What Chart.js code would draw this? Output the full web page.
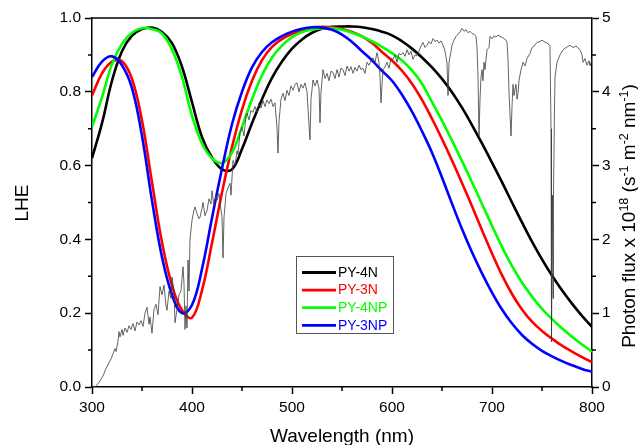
<!DOCTYPE html>
<html>
<head>
<meta charset="utf-8">
<script src="https://cdn.jsdelivr.net/npm/chart.js@4/dist/chart.umd.min.js"></script>
<style>
html,body{margin:0;padding:0;background:#fff;overflow:hidden;}
canvas{display:block;}
</style>
</head>
<body>
<canvas id="c" width="638" height="445"></canvas>
<script>
// ---------- DATA ----------
const wavelengths = [300,310,320,330,340,350,360,370,380,390,400,410,420,430,440,450,460,470,480,490,500,510,520,530,540,550,560,570,580,590,600,610,620,630,640,650,660,670,680,690,700,710,720,730,740,750,760,770,780,790,800];

const lhePY4N = [0.620,0.715,0.830,0.910,0.952,0.970,0.974,0.962,0.932,0.868,0.772,0.677,0.622,0.590,0.590,0.645,0.715,0.780,0.838,0.882,0.917,0.942,0.960,0.971,0.976,0.977,0.977,0.975,0.970,0.963,0.953,0.937,0.917,0.893,0.866,0.835,0.799,0.757,0.710,0.660,0.608,0.555,0.500,0.446,0.394,0.346,0.302,0.262,0.226,0.193,0.163];

const lhePY3N = [0.790,0.850,0.882,0.883,0.835,0.722,0.555,0.392,0.275,0.208,0.188,0.262,0.390,0.527,0.650,0.752,0.830,0.886,0.922,0.943,0.957,0.967,0.973,0.976,0.975,0.970,0.962,0.950,0.932,0.908,0.885,0.857,0.822,0.778,0.727,0.672,0.614,0.553,0.490,0.425,0.362,0.303,0.252,0.210,0.177,0.152,0.131,0.112,0.096,0.081,0.067];

const lhePY4NP = [0.705,0.785,0.875,0.930,0.960,0.972,0.970,0.958,0.915,0.840,0.735,0.660,0.620,0.607,0.635,0.705,0.780,0.845,0.893,0.925,0.948,0.962,0.969,0.972,0.972,0.968,0.960,0.950,0.937,0.922,0.905,0.885,0.858,0.822,0.772,0.722,0.668,0.612,0.555,0.496,0.437,0.380,0.328,0.283,0.245,0.212,0.184,0.159,0.136,0.115,0.096];

const lhePY3NP = [0.840,0.882,0.896,0.872,0.810,0.680,0.505,0.352,0.250,0.200,0.222,0.320,0.458,0.592,0.712,0.800,0.866,0.908,0.934,0.951,0.963,0.971,0.975,0.974,0.968,0.955,0.935,0.910,0.885,0.857,0.830,0.792,0.746,0.693,0.635,0.568,0.497,0.428,0.365,0.308,0.256,0.210,0.172,0.141,0.117,0.098,0.083,0.070,0.059,0.049,0.041];

const seriesLabels = ['PY-4N','PY-3N','PY-4NP','PY-3NP'];
const seriesColors = ['#000000','#ff0000','#00ff00','#0000ff'];

// AM1.5G photon flux (x10^18 s^-1 m^-2 nm^-1)
const solarWavelength = [300,303,305,308,311,314,317,319,321,323,324,326,327,328,330,331,333,335,337,339,341,343,345,347,349,351,353,355,357,358,360,362,364,366,368,370,372,374,375,377,379,380,382,383,385,387,389,391,392,393,394,395,396,397,398,400,402,403,405,407,408,410,411,413,415,417,419,420,422,424,425,427,429,430,431,432,434,436,438,439,441,443,445,446,448,450,452,454,455,457,459,461,463,465,467,469,471,473,475,477,479,481,483,485,486,487,489,491,493,495,497,499,501,503,505,507,509,511,513,515,517,518,519,521,523,525,527,528,529,531,533,535,537,539,541,543,545,547,549,551,553,555,557,559,561,563,565,567,569,571,573,575,577,579,581,583,585,587,588,589,590,591,593,595,597,599,601,603,605,607,609,611,613,615,617,619,621,623,625,627,629,631,633,635,637,639,641,643,645,647,649,651,653,655,656,657,659,660,662,664,666,668,670,672,674,676,678,680,682,684,685,686,687,688,689,690,691,692,693,695,697,698,700,702,704,706,708,710,712,714,715,716,717,718,719,720,721,722,723,724,725,726,727,729,731,733,735,738,740,742,745,748,750,752,755,757,758,759,759.5,760.5,761,761.5,762.5,763,765,768,771,774,778,781,784,788,790,791,793,795,797,798,800];

const solarFlux = [0,0,0.03,0.08,0.15,0.25,0.33,0.38,0.45,0.52,0.48,0.62,0.75,0.68,0.78,0.70,0.80,0.74,0.83,0.78,0.86,0.76,0.88,0.84,0.90,0.82,1.00,1.08,0.85,0.95,0.73,1.05,1.12,0.98,1.36,1.25,1.38,1.10,1.04,1.30,1.20,1.49,1.30,0.87,1.05,1.25,1.30,1.63,1.40,0.78,1.10,0.80,1.72,1.30,2.00,2.26,2.40,2.44,2.35,2.28,2.30,2.42,2.50,2.32,2.39,2.55,2.48,2.66,2.45,2.60,2.53,2.62,2.40,2.30,1.75,2.30,2.62,2.70,2.76,2.60,3.07,3.00,3.20,3.15,3.45,3.52,3.40,3.68,3.71,3.62,3.75,3.72,3.80,3.72,3.85,3.78,3.88,3.80,3.89,3.84,3.90,3.80,3.85,3.50,3.17,3.60,3.90,3.98,3.88,4.02,3.95,4.08,4.02,4.10,4.12,4.00,4.10,4.05,4.12,4.00,3.55,3.35,3.90,4.16,4.08,4.16,4.05,3.58,4.00,4.30,4.18,4.25,4.15,4.28,4.26,4.18,4.30,4.20,4.32,4.30,4.22,4.35,4.28,4.34,4.25,4.33,4.28,4.36,4.30,4.32,4.25,4.40,4.36,4.42,4.46,4.40,4.53,4.40,4.20,3.85,4.10,4.30,4.34,4.40,4.32,4.45,4.44,4.50,4.40,4.52,4.50,4.53,4.48,4.57,4.50,4.55,4.44,4.50,4.49,4.55,4.62,4.67,4.60,4.63,4.68,4.65,4.72,4.68,4.70,4.66,4.69,4.63,4.55,4.39,3.95,4.40,4.55,4.63,4.70,4.75,4.78,4.81,4.86,4.82,4.84,4.80,4.82,4.79,4.78,4.75,4.60,4.20,3.40,3.90,4.20,4.30,4.15,4.40,4.30,4.57,4.60,4.75,4.72,4.76,4.74,4.77,4.75,4.74,4.72,4.70,4.67,4.45,4.00,3.70,3.40,3.80,4.10,3.95,4.03,4.10,3.90,3.98,4.15,4.30,4.40,4.35,4.45,4.52,4.60,4.62,4.67,4.68,4.70,4.68,4.66,4.64,4.61,3.50,0.61,2.60,1.20,2.60,3.80,4.20,4.40,4.50,4.57,4.60,4.63,4.60,4.62,4.57,4.50,4.40,4.45,4.36,4.42,4.35,4.44];

const xTickValues = [300,400,500,600,700,800];
const xMinorTicks = [350,450,550,650,750];
const lheTickValues = [0,0.2,0.4,0.6,0.8,1.0];
const lheMinorTicks = [0.1,0.3,0.5,0.7,0.9];
const fluxTickValues = [0,1,2,3,4,5];
const fluxMinorTicks = [0.5,1.5,2.5,3.5,4.5];

// ---------- CHART ----------
const FONT = "'Liberation Sans', Arial, sans-serif";
const lheData = [lhePY4N, lhePY3N, lhePY4NP, lhePY3NP];

const datasets = lheData.map((vals, i) => ({
  label: seriesLabels[i],
  data: wavelengths.map((w, j) => ({x: w, y: vals[j]})),
  borderColor: seriesColors[i],
  backgroundColor: seriesColors[i],
  borderWidth: 2.6,
  pointRadius: 0,
  tension: 0.4,
  fill: false,
  yAxisID: 'y',
  order: 4 - i
}));
datasets.push({
  label: 'AM1.5G',
  data: solarWavelength.map((w, j) => ({x: w, y: solarFlux[j]})),
  borderColor: '#3c3c3c',
  borderWidth: 0.8,
  pointRadius: 0,
  tension: 0,
  fill: false,
  yAxisID: 'y2',
  order: 0
});

const decor = {
  id: 'decor',
  afterDraw(chart) {
    const ctx = chart.ctx;
    const a = chart.chartArea;
    const sx = chart.scales.x, sy = chart.scales.y, sy2 = chart.scales.y2;
    ctx.save();
    ctx.strokeStyle = '#000';
    ctx.lineWidth = 1.5;
    // top frame line
    ctx.beginPath();
    ctx.moveTo(a.left, a.top);
    ctx.lineTo(a.right, a.top);
    ctx.stroke();
    // minor ticks
    ctx.beginPath();
    xMinorTicks.forEach(v => { const p = sx.getPixelForValue(v); ctx.moveTo(p, a.bottom); ctx.lineTo(p, a.bottom + 4); });
    lheMinorTicks.forEach(v => { const p = sy.getPixelForValue(v); ctx.moveTo(a.left, p); ctx.lineTo(a.left - 4, p); });
    fluxMinorTicks.forEach(v => { const p = sy2.getPixelForValue(v); ctx.moveTo(a.right, p); ctx.lineTo(a.right + 4, p); });
    ctx.stroke();

    ctx.fillStyle = '#000';
    // x title
    ctx.font = '19px ' + FONT;
    ctx.textAlign = 'center';
    ctx.textBaseline = 'alphabetic';
    ctx.fillText('Wavelength (nm)', (a.left + a.right) / 2, 442);
    // left title
    ctx.save();
    ctx.translate(28, 203);
    ctx.rotate(-Math.PI / 2);
    ctx.fillText('LHE', 0, 0);
    ctx.restore();
    // right title with superscripts
    const parts = [
      ['Photon flux x 10', false], ['18', true], [' (s', false], ['-1', true],
      [' m', false], ['-2', true], [' nm', false], ['-1', true], [')', false]
    ];
    const big = '19px ' + FONT, small = '12.5px ' + FONT;
    let total = 0;
    parts.forEach(p => { ctx.font = p[1] ? small : big; total += ctx.measureText(p[0]).width; });
    ctx.save();
    ctx.translate(635, 216);
    ctx.rotate(-Math.PI / 2);
    ctx.textAlign = 'left';
    let cx = -total / 2;
    parts.forEach(p => {
      ctx.font = p[1] ? small : big;
      ctx.fillText(p[0], cx, p[1] ? -7.5 : 0);
      cx += ctx.measureText(p[0]).width;
    });
    ctx.restore();

    // legend
    const lx = 296, ly = 256, lw = 97, lh = 77;
    ctx.fillStyle = '#fff';
    ctx.fillRect(lx, ly, lw, lh);
    ctx.strokeStyle = '#555';
    ctx.lineWidth = 1;
    ctx.strokeRect(lx + 0.5, ly + 0.5, lw, lh);
    ctx.font = '14px ' + FONT;
    ctx.textAlign = 'left';
    ctx.textBaseline = 'middle';
    seriesLabels.forEach((lab, i) => {
      const yy = 272.5 + i * 17.6;
      ctx.strokeStyle = seriesColors[i];
      ctx.lineWidth = 2.8;
      ctx.beginPath();
      ctx.moveTo(302, yy);
      ctx.lineTo(336, yy);
      ctx.stroke();
      ctx.fillStyle = seriesColors[i];
      ctx.fillText(lab, 338, yy + 0.5);
    });
    ctx.restore();
  }
};

const tickFont = {family: FONT, size: 15.5};
const gridOpt = {display: true, drawOnChartArea: false, drawTicks: true, tickLength: 7, tickWidth: 1.5, tickColor: '#000'};
const borderOpt = {display: true, color: '#000', width: 1.5};

new Chart(document.getElementById('c'), {
  type: 'line',
  data: {datasets},
  options: {
    responsive: false,
    animation: false,
    devicePixelRatio: 1,
    layout: {padding: {top: 18, left: 0, right: 0, bottom: 0}},
    plugins: {legend: {display: false}, tooltip: {enabled: false}, title: {display: false}},
    scales: {
      x: {
        type: 'linear', position: 'bottom', min: 300, max: 800,
        afterBuildTicks: s => { s.ticks = xTickValues.map(v => ({value: v})); },
        ticks: {color: '#000', font: tickFont, padding: 4, maxRotation: 0, autoSkip: false},
        grid: gridOpt, border: borderOpt,
        afterFit: s => { s.height = 58; }
      },
      y: {
        type: 'linear', position: 'left', min: 0, max: 1,
        afterBuildTicks: s => { s.ticks = lheTickValues.map(v => ({value: v})); },
        ticks: {color: '#000', font: tickFont, padding: 4, callback: v => v.toFixed(1)},
        grid: gridOpt, border: borderOpt,
        afterFit: s => { s.width = 92; }
      },
      y2: {
        type: 'linear', position: 'right', min: 0, max: 5,
        afterBuildTicks: s => { s.ticks = fluxTickValues.map(v => ({value: v})); },
        ticks: {color: '#000', font: tickFont, padding: 3, callback: v => String(v)},
        grid: gridOpt, border: borderOpt,
        afterFit: s => { s.width = 46; }
      }
    }
  },
  plugins: [decor]
});
</script>
</body>
</html>
